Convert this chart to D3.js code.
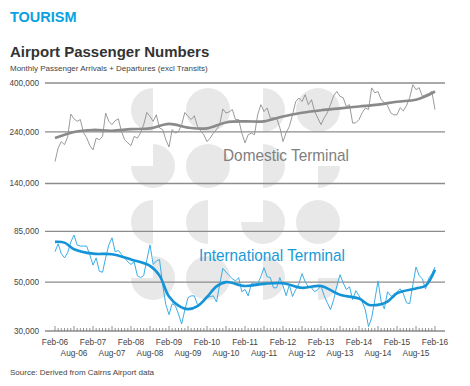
<!DOCTYPE html>
<html>
<head>
<meta charset="utf-8">
<script src="https://cdn.jsdelivr.net/npm/d3@7"></script>
<style>
body { margin: 0; background: #fff; font-family: "Liberation Sans", Arial, sans-serif; }
</style>
</head>
<body>
<svg id="chart" width="470" height="386"></svg>
<script>
// monthly passengers (thousands), Feb-06 .. Feb-16
var domestic = [
	176,203,217,210,228,289,275,268,273,238,226,208,
	199,225,221,229,292,268,259,270,275,241,221,214,
	208,229,225,237,259,294,282,268,287,250,246,221,
	205,246,237,241,259,294,282,273,284,254,243,233,
	217,225,237,246,259,305,292,296,303,273,273,237,
	214,233,237,233,287,319,297,308,277,278,277,251,
	217,238,254,287,329,342,330,354,319,336,297,277,
	259,278,293,319,350,366,348,343,313,319,263,264,
	273,293,308,303,380,361,366,336,326,316,293,287,
	287,309,299,316,343,393,373,381,348,354,358,366,
	303
];
var international = [
	68.7,74.6,67.2,64.4,67.9,76.1,81.7,73.6,72.8,72.8,72.8,66.5,
	59.7,64.4,56.0,55.4,64.4,73.8,79.4,68.7,69.6,66.7,64.4,61.8,
	60.1,61.8,53.5,52.4,53.5,63.1,73.8,60.1,62.3,63.3,48.6,39.5,
	35.6,39.9,39.1,35.8,32.3,37.4,42.5,43.3,43.3,39.5,39.9,41.6,
	42.5,43.0,43.3,40.6,48.6,57.7,55.5,53.5,51.8,50.6,52.4,45.2,
	46.3,43.3,49.1,49.6,49.1,52.9,58.1,52.9,52.4,47.1,47.1,52.4,
	48.1,43.4,48.6,43.0,46.2,49.1,54.6,50.2,47.6,47.1,45.2,46.2,
	48.0,43.4,40.3,37.5,41.6,48.1,54.0,49.6,46.3,47.6,41.6,45.7,
	43.4,40.8,37.4,31.4,34.4,41.6,50.6,40.8,37.8,45.2,43.4,42.5,
	45.2,46.6,44.3,40.3,39.9,48.6,58.5,53.5,51.8,46.5,52.0,54.5,
	58.5
];

// trend lines, read at a few months (month index from Feb-06)
var domTrendMonths = [0,6,12,18,24,30,36,42,48,54,60,66,72,78,84,90,96,102,108,114,117,120];
var domTrend       = [225,240,245,243,247,249,261,251,249,265,268,268,282,293,301,307,313,319,329,336,348,366];
var intTrendMonths = [0,3,6,12,18,24,30,33,36,39,42,45,48,51,54,60,66,72,78,84,90,96,99,102,105,108,114,117,120];
var intTrend       = [76.1,75.5,70.5,67.3,66.9,63.3,59.2,53.5,43.0,39.1,37.7,38.9,42.8,47.8,50.0,48.0,49.1,49.4,47.1,48.0,43.8,42.1,39.5,39.4,40.8,44.5,46.8,48.1,56.9];

var yTicks = [30, 50, 85, 140, 240, 400];
var febLabels = ['Feb-06','Feb-07','Feb-08','Feb-09','Feb-10','Feb-11','Feb-12','Feb-13','Feb-14','Feb-15','Feb-16'];
var augLabels = ['Aug-06','Aug-07','Aug-08','Aug-09','Aug-10','Aug-11','Aug-12','Aug-13','Aug-14','Aug-15'];

var svg = d3.select('#chart');

// titles
svg.append('text').attr('x', 10).attr('y', 22)
	.style('font-size', '14.5px').style('font-weight', 'bold').attr('fill', '#0aa1e0')
	.text('TOURISM');
svg.append('text').attr('x', 10).attr('y', 57)
	.style('font-size', '15px').style('font-weight', 'bold').attr('fill', '#333')
	.text('Airport Passenger Numbers');
svg.append('text').attr('x', 10).attr('y', 71)
	.style('font-size', '8px').attr('fill', '#444')
	.text('Monthly Passenger Arrivals + Departures (excl Transits)');

// scales (log axis)
const x = d3.scaleLinear().domain([0, 120]).range([55, 435]);
const y = d3.scaleLog().domain([30, 400]).range([331, 83]);

// background watermark shapes
var wmCols = [153, 208, 263, 318];
var wmRows = [110, 166, 222, 278];
var wmShapes = [
	['left','full','right','full'],
	['cut','full','right','quarter'],
	['left','left','cut','full'],
	['cut','full','right','quarter']
];
var angles = {
	full: [0, 2 * Math.PI],
	left: [Math.PI, 2 * Math.PI],
	right: [0, Math.PI],
	cut: [0, 1.5 * Math.PI],
	quarter: [Math.PI / 2, Math.PI]
};
const arc = d3.arc().innerRadius(0).outerRadius(22);
const wm = svg.append('g').attr('fill', '#e8e8e8');
wmShapes.forEach((row, r) => {
	row.forEach((s, c) => {
		wm.append('path')
			.attr('transform', `translate(${wmCols[c]},${wmRows[r]})`)
			.attr('d', arc({startAngle: angles[s][0], endAngle: angles[s][1]}));
	});
});

// grid lines + y labels
const grid = svg.append('g');
yTicks.forEach(t => {
	grid.append('line')
		.attr('x1', 45).attr('x2', 445)
		.attr('y1', y(t)).attr('y2', y(t))
		.attr('stroke', '#8c8c8c').attr('stroke-width', 1.3);
	grid.append('text')
		.attr('x', 39).attr('y', y(t)).attr('dy', '0.33em')
		.attr('text-anchor', 'end')
		.style('font-size', '8.2px').attr('fill', '#444')
		.text(d3.format(',')(t * 1000));
});

// x axis month ticks
const ticks = svg.append('g').attr('stroke', '#777').attr('stroke-width', 0.8);
d3.range(0, 121).forEach(i => {
	ticks.append('line')
		.attr('x1', x(i)).attr('x2', x(i))
		.attr('y1', y(30)).attr('y2', y(30) - (i % 6 == 0 ? 5 : 3));
});
febLabels.forEach((l, i) => {
	svg.append('text').attr('x', x(i * 12)).attr('y', 345)
		.attr('text-anchor', 'middle')
		.style('font-size', '8.3px').attr('fill', '#444').text(l);
});
augLabels.forEach((l, i) => {
	svg.append('text').attr('x', x(i * 12 + 6)).attr('y', 355.5)
		.attr('text-anchor', 'middle')
		.style('font-size', '8.3px').attr('fill', '#444').text(l);
});

// lines
const rawLine = d3.line().x((d, i) => x(i)).y(d => y(d));
const trendLine = d3.line().x(d => x(d[0])).y(d => y(d[1])).curve(d3.curveCatmullRom.alpha(0.5));

svg.append('path').datum(domestic).attr('d', rawLine)
	.attr('fill', 'none').attr('stroke', '#8e8e8e').attr('stroke-width', 0.9);
svg.append('path').datum(domTrendMonths.map((m, i) => [m, domTrend[i]])).attr('d', trendLine)
	.attr('fill', 'none').attr('stroke', '#8a8a8a').attr('stroke-width', 2.6);

svg.append('path').datum(international).attr('d', rawLine)
	.attr('fill', 'none').attr('stroke', '#3aaee6').attr('stroke-width', 1);
svg.append('path').datum(intTrendMonths.map((m, i) => [m, intTrend[i]])).attr('d', trendLine)
	.attr('fill', 'none').attr('stroke', '#1493d6').attr('stroke-width', 2.6);

// series labels
svg.append('text').attr('x', 223).attr('y', 160.5)
	.attr('textLength', 126).attr('lengthAdjust', 'spacingAndGlyphs')
	.style('font-size', '17px').attr('fill', '#7f7f7f')
	.text('Domestic Terminal');
svg.append('text').attr('x', 199).attr('y', 260.5)
	.attr('textLength', 146).attr('lengthAdjust', 'spacingAndGlyphs')
	.style('font-size', '17px').attr('fill', '#1a9ad6')
	.text('International Terminal');

// source
svg.append('text').attr('x', 10).attr('y', 374.5)
	.style('font-size', '8px').attr('fill', '#444')
	.text('Source: Derived from Cairns Airport data');
</script>
</body>
</html>
